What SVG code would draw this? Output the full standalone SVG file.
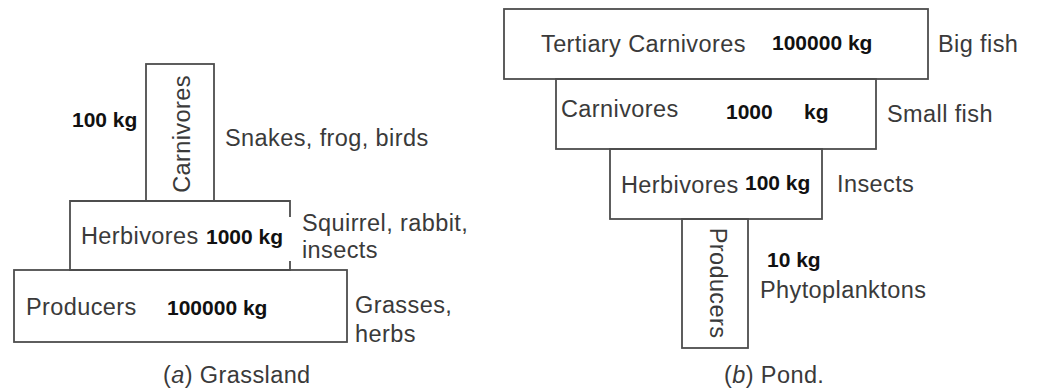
<svg xmlns="http://www.w3.org/2000/svg" width="1042" height="390" viewBox="0 0 1042 390">
<style>
.box{fill:none;stroke:#4d4d4d;stroke-width:1.8}
.t{font-family:"Liberation Sans",Arial,sans-serif;font-size:23.5px;letter-spacing:0.4px;fill:#3a3a3a}
.b{font-family:"Liberation Sans",Arial,sans-serif;font-size:21px;font-weight:bold;fill:#111}
</style>
<rect width="1042" height="390" fill="#fff"/>
<g id="grassland">
<g id="g-carnivores">
<rect class="box" x="146" y="64" width="68" height="137"/>
<text class="t" x="190" y="134" text-anchor="middle" transform="rotate(-90 190 134)">Carnivores</text>
<text class="b" x="72" y="127">100 kg</text>
<text class="t" x="225" y="146">Snakes, frog, birds</text>
</g>
<g id="g-herbivores">
<path class="box" d="M290,217 V201 H70 V270 H290 V261"/>
<text class="t" x="81" y="244">Herbivores</text>
<text class="b" x="206" y="244">1000 kg</text>
<text class="t" x="302" y="231">Squirrel, rabbit,</text>
<text class="t" x="302" y="258">insects</text>
</g>
<g id="g-producers">
<rect class="box" x="14" y="270" width="333" height="72"/>
<text class="t" x="26" y="315">Producers</text>
<text class="b" x="167" y="315">100000 kg</text>
<text class="t" x="355" y="313">Grasses,</text>
<text class="t" x="355" y="342">herbs</text>
</g>
<text id="cap-a" class="t" x="163" y="383">(<tspan font-style="italic">a</tspan>) Grassland</text>
</g>
<g id="pond">
<g id="p-tertiary">
<rect class="box" x="504" y="9" width="424" height="70"/>
<text class="t" x="541" y="52">Tertiary Carnivores</text>
<text class="b" x="772" y="50">100000 kg</text>
<text class="t" x="938" y="52">Big fish</text>
</g>
<g id="p-carnivores">
<rect class="box" x="556" y="79" width="320" height="70"/>
<text class="t" x="561" y="117">Carnivores</text>
<text class="b" x="726" y="119">1000</text>
<text class="b" x="804" y="119">kg</text>
<text class="t" x="887" y="122">Small fish</text>
</g>
<g id="p-herbivores">
<rect class="box" x="610" y="149" width="212" height="70"/>
<text class="t" x="621" y="193">Herbivores</text>
<text class="b" x="745" y="190">100 kg</text>
<text class="t" x="837" y="192">Insects</text>
</g>
<g id="p-producers">
<rect class="box" x="682" y="219" width="66" height="129"/>
<text class="t" x="710" y="283" text-anchor="middle" transform="rotate(90 710 283)">Producers</text>
<text class="b" x="767" y="267">10 kg</text>
<text class="t" x="760" y="298">Phytoplanktons</text>
</g>
<text id="cap-b" class="t" x="724" y="383">(<tspan font-style="italic">b</tspan>) Pond.</text>
</g>
<g id="connectors"/>
</svg>
